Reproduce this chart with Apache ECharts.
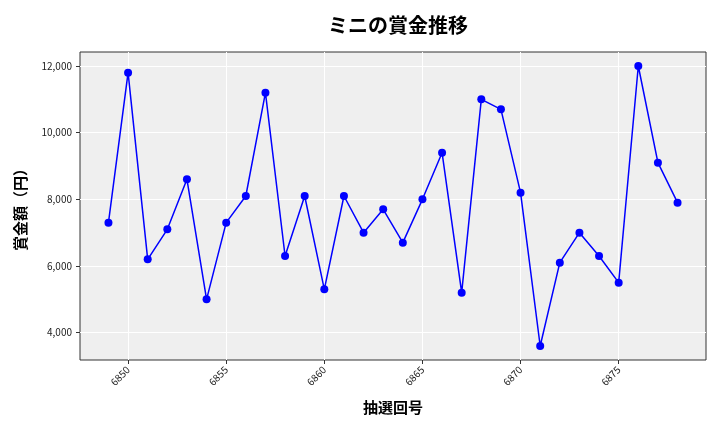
<!DOCTYPE html>
<html><head><meta charset="utf-8">
<script src="https://cdn.jsdelivr.net/npm/echarts@6/dist/echarts.min.js"></script>
<style>html,body{margin:0;padding:0;background:#fff}#c{width:720px;height:432px}</style>
</head><body><div id="c"></div>
<script>
const draws = [6849,6850,6851,6852,6853,6854,6855,6856,6857,6858,6859,6860,6861,6862,6863,6864,6865,6866,6867,6868,6869,6870,6871,6872,6873,6874,6875,6876,6877,6878];
const prizes = [7300,11800,6200,7100,8600,5000,7300,8100,11200,6300,8100,5300,8100,7000,7700,6700,8000,9400,5200,11000,10700,8200,3600,6100,7000,6300,5500,12000,9100,7900];
const xTicks = [6850,6855,6860,6865,6870,6875];
const yTicks = [4000,6000,8000,10000,12000];
const titleText = 'ミニの賞金推移';
const xName = '抽選回号';
const yName = '賞金額（円）';

const font = '"Noto Sans CJK JP", "Noto Sans", sans-serif';
const chart = echarts.init(document.getElementById('c'));
chart.setOption({
  backgroundColor: '#ffffff',
  animation: false,
  title: { text: titleText, left: 393, textAlign: 'center', top: 10,
    textStyle: { fontFamily: font, fontSize: 20, fontWeight: 'bold', color: '#000' } },
  grid: { left: 80, right: 14, top: 52, bottom: 72, show: true,
    backgroundColor: '#efefef', borderColor: '#333', borderWidth: 1 },
  xAxis: {
    type: 'value', min: 6847.55, max: 6879.45,
    name: xName, nameLocation: 'middle', nameGap: 40,
    nameTextStyle: { fontFamily: font, fontSize: 15, fontWeight: 'bold', color: '#000' },
    axisLine: { show: false },
    axisTick: { show: true, customValues: xTicks, length: 4, lineStyle: { color: '#333' } },
    axisLabel: { customValues: xTicks, rotate: 45, fontSize: 10, color: '#222', fontFamily: font, margin: 8,
      formatter: v => String(v) },
    splitLine: { show: true, customValues: xTicks, lineStyle: { color: '#ffffff', width: 1 } }
  },
  yAxis: {
    type: 'value', min: 3180, max: 12420,
    name: yName, nameLocation: 'middle', nameGap: 52,
    nameTextStyle: { fontFamily: font, fontSize: 15, fontWeight: 'bold', color: '#000' },
    axisLine: { show: false },
    axisTick: { show: true, customValues: yTicks, length: 4, lineStyle: { color: '#333' } },
    axisLabel: { customValues: yTicks, fontSize: 10, color: '#222', fontFamily: font, margin: 8,
      formatter: v => v.toLocaleString('en-US') },
    splitLine: { show: true, customValues: yTicks, lineStyle: { color: '#ffffff', width: 1 } }
  },
  series: [{
    type: 'line',
    data: draws.map((d, i) => [d, prizes[i]]),
    symbol: 'circle', symbolSize: 8,
    lineStyle: { color: '#0000ff', width: 1.5 },
    itemStyle: { color: '#0000ff' }
  }]
});
</script></body></html>
